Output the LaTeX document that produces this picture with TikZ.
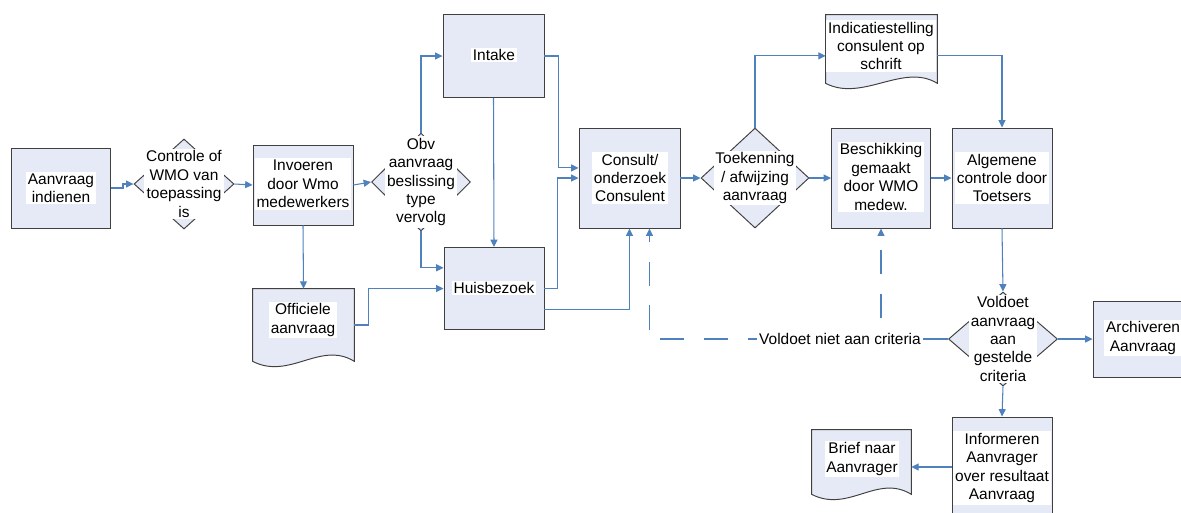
\documentclass[tikz,border=0pt]{standalone}
\usepackage{fontspec}
\setmainfont{Liberation Sans}
\usetikzlibrary{arrows.meta,shapes.geometric,calc}
\definecolor{boxfill}{RGB}{230,234,246}
\definecolor{boxline}{RGB}{64,64,64}
\definecolor{flow}{RGB}{79,129,189}
\newcommand{\docshape}[1]{%
  \filldraw[fill=boxfill,draw=boxline,line width=0.55pt]
    (#1.south west) -- (#1.north west) -- (#1.north east) -- (#1.south east)
    .. controls ($(#1.south east)+(-34,-21)$) and ($(#1.south west)+(37,19)$) .. (#1.south west) -- cycle;}

\begin{document}
\begin{tikzpicture}[x=0.02cm,y=-0.02cm,
    txt/.style={fill=white,inner sep=1pt,align=center,
      font=\fontsize{8.8}{10.5}\selectfont},
    docbox/.style={draw=none,fill=none,inner sep=0pt}]
    \useasboundingbox (0,0) rectangle (1181,512);
    \clip (0,0) rectangle (1181,512);

    \begin{scope}[every node/.style={fill=boxfill,draw=boxline,line width=0.55pt,inner sep=0pt}]
      \node[minimum width=1.98cm,minimum height=1.6cm] (Aanv) at (61,188) {};
      \node[shape=diamond,minimum width=2cm,minimum height=1.8cm] (Contr) at (184,184) {};
      \node[minimum width=2cm,minimum height=1.6cm] (Invo) at (303,185) {};
      \node[shape=diamond,minimum width=1.98cm,minimum height=1.96cm] (Obv) at (421,182) {};
      \node[minimum width=2.02cm,minimum height=1.66cm] (Intake) at (493.5,56) {};
      \node[minimum width=2cm,minimum height=1.64cm] (Huis) at (494,288.5) {};
      \node[minimum width=2.02cm,minimum height=2cm] (Cons) at (629.5,178) {};
      \node[shape=diamond,minimum width=2.16cm,minimum height=2cm] (Toek) at (755,178) {};
      \node[minimum width=1.98cm,minimum height=2cm] (Besch) at (881,178) {};
      \node[minimum width=2cm,minimum height=2cm] (Alg) at (1002,178) {};
      \node[shape=diamond,minimum width=2.18cm,minimum height=1.88cm] (Vold) at (1003,339) {};
      \node[minimum width=2cm,minimum height=1.52cm] (Arch) at (1143,339) {};
      \node[minimum width=2cm,minimum height=2cm] (Inf) at (1002,467) {};
    \end{scope}

    \node[docbox,minimum width=2.02cm,minimum height=1.44cm] (Offic) at (303.5,325) {};
    \node[docbox,minimum width=2.22cm,minimum height=1.36cm] (Ind) at (881.5,49) {};
    \node[docbox,minimum width=1.98cm,minimum height=1.28cm] (Brief) at (861.5,462) {};
    \docshape{Offic}
    \docshape{Ind}
    \docshape{Brief}

    \begin{scope}[>={Triangle[length=4.2pt,width=4pt]},
        every edge/.style={draw=flow,line width=0.6pt},
        flowline/.style={draw=flow,line width=0.6pt},
        dashflow/.style={draw=flow,line width=0.6pt,dash pattern=on 14pt off 11pt}]
      \draw[flowline,->] (Aanv.east) -- ++(12,0) |- (Contr.west);
      \path [->] (Contr.east) edge (Invo.west -| Invo.west);
      \path [->] (Invo.east) edge (Obv.west);
      \path [->] (Invo.south) edge (Offic.north);
      \draw[flowline,->] (Obv.north) |- (Intake.west);
      \draw[flowline,->] (Obv.south) |- ($(Huis.north west)!0.25!(Huis.south west)$);
      \draw[flowline,->] (Offic.east) -- ++(14,0) |- (Huis.west);
      \path [->] (Intake.south) edge (Huis.north);
      \draw[flowline,->] (Intake.east) -- ++(14,0) |- ($(Cons.north west)!0.4!(Cons.south west)$);
      \draw[flowline,->] (Huis.east) -- ++(13,0) |- (Cons.west);
      \draw[flowline,->] ($(Huis.north east)!0.75!(Huis.south east)$) -| (Cons.south);
      \path [->] (Cons.east) edge (Toek.west);
      \draw[flowline,->] (Toek.north) |- ($(Ind.north west)!0.6!(Ind.south west)$);
      \path [->] (Toek.east) edge (Besch.west);
      \path [->] (Besch.east) edge (Alg.west);
      \draw[flowline,->] ($(Ind.north east)!0.6!(Ind.south east)$) -| (Alg.north);
      \path [->] (Alg.south) edge (Vold.north);
      \path [->] (Vold.east) edge (Arch.west);
      \path [->] (Vold.south) edge (Inf.north);
      \draw[flowline,->] (Inf.west) -- (Inf.west -| Brief.east);
      \draw[dashflow,->] (Vold.west) -| ($(Cons.south)+(20,0)$);
      \draw[dashflow,->] (Vold.west) -| (Besch.south);
    \end{scope}

    \begin{scope}[every node/.style={txt}]
      \node (tAanv) at (61,188) {Aanvraag\\indienen};
      \node (tContr) at (184,184) {Controle of\\WMO van\\toepassing\\is};
      \node (tInvo) at (303,184) {Invoeren\\door Wmo\\medewerkers};
      \node (tObv) at (421,182) {Obv\\aanvraag\\beslissing\\type\\vervolg};
      \node (tIntake) at (494,55) {Intake};
      \node (tHuis) at (494,288) {Huisbezoek};
      \node (tOffic) at (303,320) {Officiele\\aanvraag};
      \node (tCons) at (630,178) {Consult/\\onderzoek\\Consulent};
      \node (tToek) at (755,178) {Toekenning\\/ afwijzing\\aanvraag};
      \node (tInd) at (881,46) {Indicatiestelling\\consulent op\\schrift};
      \node (tBesch) at (881,177) {Beschikking\\gemaakt\\door WMO\\medew.};
      \node (tAlg) at (1002,178) {Algemene\\controle door\\Toetsers};
      \node (tVold) at (1003,339) {Voldoet\\aanvraag\\aan\\gestelde\\criteria};
      \node (tArch) at (1143,338) {Archiveren\\Aanvraag};
      \node (tInf) at (1002,468) {Informeren\\Aanvrager\\over resultaat\\Aanvraag};
      \node (tBrief) at (862,459) {Brief naar\\Aanvrager};
      \node (Niet) at (840,339) {Voldoet niet aan criteria};
    \end{scope}
  \end{tikzpicture}
\end{document}
